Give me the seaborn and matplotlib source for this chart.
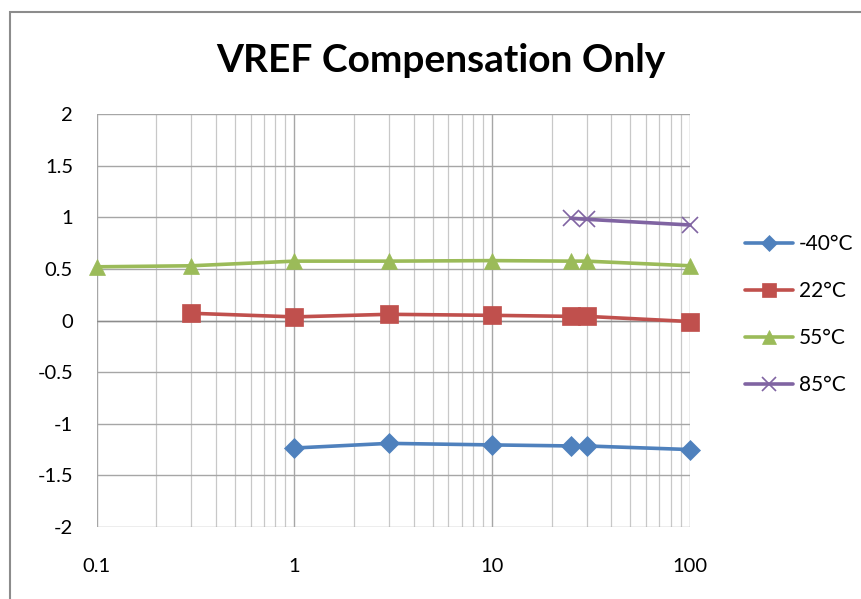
import matplotlib
matplotlib.use("Agg")
import matplotlib.pyplot as plt
import matplotlib.ticker as mticker
from matplotlib.patches import Rectangle
import seaborn as sns
import pandas as pd

# === Data ===
x_m40 = [1, 3, 10, 25, 30, 100]
y_m40 = [-1.235, -1.19, -1.205, -1.215, -1.215, -1.25]

x_22 = [0.3, 1, 3, 10, 25, 30, 100]
y_22 = [0.07, 0.035, 0.06, 0.05, 0.04, 0.04, -0.01]

x_55 = [0.1, 0.3, 1, 3, 10, 25, 30, 100]
y_55 = [0.52, 0.53, 0.575, 0.575, 0.58, 0.575, 0.575, 0.53]

x_85 = [25, 30, 100]
y_85 = [0.99, 0.98, 0.925]

labels = ["-40°C", "22°C", "55°C", "85°C"]
colors = ["#4F81BD", "#C0504D", "#9BBB59", "#8064A2"]
markers = ["D", "s", "^", "x"]
msizes = [10.5, 12.5, 12, 12]

y_ticks = [-2, -1.5, -1, -0.5, 0, 0.5, 1, 1.5, 2]
x_ticks = [0.1, 1, 10, 100]

sns.set_style("white")
plt.rcParams['font.family'] = ['Lato', 'DejaVu Sans']
plt.rcParams['text.color'] = 'black'
plt.rcParams['xtick.color'] = 'black'
plt.rcParams['ytick.color'] = 'black'

fig = plt.figure(figsize=(8.62, 5.99), dpi=100)
ax = fig.add_axes([96.7 / 862, 72 / 599, (690 - 96.7) / 862, (527 - 114) / 599])

series = [(x_m40, y_m40), (x_22, y_22), (x_55, y_55), (x_85, y_85)]
for (xs, ys), lab, c, m, ms in zip(series, labels, colors, markers, msizes):
    df = pd.DataFrame({"x": xs, "y": ys})
    sns.lineplot(data=df, x="x", y="y", ax=ax, color=c, marker=m, markersize=ms,
                 markeredgecolor=c, markeredgewidth=1.2 if m == "x" else 0.5,
                 linewidth=2.6, label=lab, errorbar=None, zorder=3, clip_on=False)

ax.set_xscale("log")
ax.set_xlim(0.1, 100)
ax.set_ylim(-2, 2)
ax.set_yticks(y_ticks)
ax.set_yticklabels([f"{v:g}" for v in y_ticks])
ax.xaxis.set_major_locator(mticker.FixedLocator(x_ticks))
ax.xaxis.set_major_formatter(mticker.FixedFormatter([f"{v:g}" for v in x_ticks]))
ax.xaxis.set_minor_locator(mticker.LogLocator(base=10, subs=range(2, 10)))
ax.xaxis.set_minor_formatter(mticker.NullFormatter())
ax.set_xlabel("")
ax.set_ylabel("")

ax.grid(which="major", axis="both", color="#A6A6A6", linewidth=1.0)
ax.grid(which="minor", axis="x", color="#C8C8C8", linewidth=0.9)
ax.axhline(0, color="#8C8C8C", linewidth=1.0, zorder=1)
for s in ax.spines.values():
    s.set_visible(False)
ax.tick_params(axis="both", which="both", length=0)
ax.tick_params(axis="y", pad=17, labelsize=14.5)
ax.tick_params(axis="x", pad=22, labelsize=14.5)

leg = ax.legend(loc="center left", bbox_to_anchor=(0.843, 0.475),
                bbox_transform=fig.transFigure, frameon=False, fontsize=15,
                handlelength=2.3, labelspacing=1.3, handletextpad=0.25,
                markerscale=0.8)

fig.text(441 / 862, 1 - 60 / 599, "VREF Compensation Only", ha="center", va="center",
         fontsize=28, fontweight="bold")

fig.patches.append(Rectangle((10 / 862, -0.1), 1.1, 1.1 - 12 / 599,
                             transform=fig.transFigure, fill=False,
                             edgecolor="#8C8C8C", linewidth=1.5))

fig.savefig("out.png", dpi=100)
